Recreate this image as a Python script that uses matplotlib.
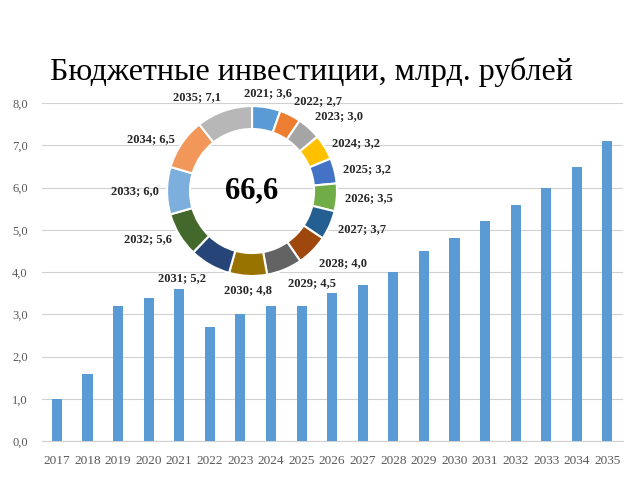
import numpy as np
import matplotlib
matplotlib.use("Agg")
import matplotlib.pyplot as plt

# данные
years = [2017, 2018, 2019, 2020, 2021, 2022, 2023, 2024, 2025, 2026,
         2027, 2028, 2029, 2030, 2031, 2032, 2033, 2034, 2035]
values = [1.0, 1.6, 3.2, 3.4, 3.6, 2.7, 3.0, 3.2, 3.2, 3.5,
          3.7, 4.0, 4.5, 4.8, 5.2, 5.6, 6.0, 6.5, 7.1]
donut_years = years[4:]
donut_values = values[4:]
donut_colors = ['#5B9BD5', '#ED7D31', '#A5A5A5', '#FFC000', '#4472C4',
                '#70AD47', '#255E91', '#9E480E', '#636363', '#997300',
                '#264478', '#43682B', '#7CAFDD', '#F1975A', '#B7B7B7']
title = "Бюджетные инвестиции, млрд. рублей"

def fmt(v):
    return ("%.1f" % v).replace('.', ',')

plt.rcParams['font.family'] = ['Liberation Serif', 'DejaVu Serif']

fig = plt.figure(figsize=(6.4, 4.8), dpi=100)
fig.patch.set_facecolor('white')

ax = fig.add_axes([0.065, 0.081, 0.908, 0.704])
x = np.arange(len(years))
ax.bar(x, values, width=0.33, color='#5B9BD5', zorder=3)
ax.set_xlim(-0.5, len(years) - 0.5)
ax.set_ylim(0, 8)
ax.set_yticks(np.arange(0, 9, 1))
ax.set_yticklabels([fmt(v) for v in np.arange(0, 9, 1)])
ax.set_xticks(x)
ax.set_xticklabels([str(y) for y in years])
ax.tick_params(axis='both', length=0, colors='#595959')
ax.tick_params(axis='y', pad=10, labelsize=9)
ax.tick_params(axis='x', pad=10, labelsize=9.5)
ax.grid(axis='y', color='#D0D0D0', linewidth=0.8, zorder=0)
for s in ['top', 'right', 'left']:
    ax.spines[s].set_visible(False)
ax.spines['bottom'].set_color('#D0D0D0')

fig.text(0.486, 0.85, title, fontsize=23, ha='center', va='center', color='black')

# кольцевая диаграмма
dax = fig.add_axes([0.261, 0.425, 0.2656, 0.354])
wedges, _ = dax.pie(donut_values, colors=donut_colors, startangle=90,
                    counterclock=False, radius=1.0,
                    wedgeprops=dict(width=0.27, edgecolor='white', linewidth=1.5))
dax.set_xlim(-1, 1)
dax.set_ylim(-1, 1)
dax.set_aspect('equal')
dax.axis('off')
dax.text(0, 0, fmt(sum(donut_values)), ha='center', va='center',
         fontsize=22, fontweight='bold')

total = sum(donut_values)
cum = 0
for yr, v in zip(donut_years, donut_values):
    mid = (cum + v / 2) / total
    cum += v
    ang = np.deg2rad(90 - 360 * mid)
    cx, cy = np.cos(ang), np.sin(ang)
    r = 1.1
    if cx > 0.3:
        ha = 'left'
    elif cx < -0.3:
        ha = 'right'
    else:
        ha = 'center'
    if cy > 0.7:
        va = 'bottom'
    elif cy < -0.7:
        va = 'top'
    else:
        va = 'center'
    dax.text(r * cx, r * cy, "%d; %s" % (yr, fmt(v)), ha=ha, va=va,
             fontsize=9, fontweight='bold', color='#262626', clip_on=False)

fig.savefig('out.png', dpi=100, facecolor='white')
